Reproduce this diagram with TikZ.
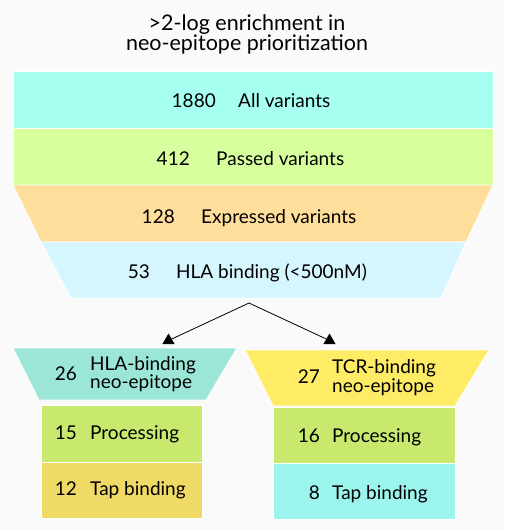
\documentclass[tikz,border=0pt]{standalone}
\usepackage{fontspec}
\setmainfont{Lato}
\usetikzlibrary{shapes.geometric}
\definecolor{paper}{HTML}{FAFAFA}
\definecolor{allcol}{HTML}{A6FFF0}
\definecolor{passcol}{HTML}{D8FF9E}
\definecolor{exprcol}{HTML}{FFDE9C}
\definecolor{hlacol}{HTML}{D6F6FF}
\definecolor{hlaepicol}{HTML}{9BE6D7}
\definecolor{proccol}{HTML}{C9E86E}
\definecolor{taplcol}{HTML}{F0DA66}
\definecolor{tcrepicol}{HTML}{FFEC66}
\definecolor{taprcol}{HTML}{9CF5EC}
\begin{document}
\begin{tikzpicture}[x=1pt, y=-1pt,
    font=\fontsize{19}{14.5}\selectfont,
    stage/.style={draw=white, line width=0.8pt},
    count/.style={anchor=base east, inner sep=0pt},
    what/.style={anchor=base west, inner sep=0pt},
    tip/.style={regular polygon, regular polygon sides=3, fill=black,
        minimum size=14pt, inner sep=0pt}]
    \fill [paper] (0,0) rectangle (504,530);
    \useasboundingbox (0,0) rectangle (504,530);
    % title
    \node [align=center, anchor=base, inner sep=0pt,
        font=\fontsize{21.5}{20}\selectfont] (title) at (247,50)
        {>2-log enrichment in\\neo-epitope prioritization};
    % main funnel
    \filldraw [stage, fill=allcol] (13,71) rectangle (493,128);
    \filldraw [stage, fill=passcol] (13,128) rectangle (493,185);
    \filldraw [stage, fill=exprcol] (13,185) -- (493,185) -- (466,242) -- (41,242) -- cycle;
    \filldraw [stage, fill=hlacol] (41,242) -- (466,242) -- (441,298) -- (71,298) -- cycle;
    \node [count] (alln) at (216,107) {1880};
    \node [what] (allt) at (238,107) {All variants};
    \node [count] (passn) at (190,165) {412};
    \node [what] (passt) at (216,165) {Passed variants};
    \node [count] (exprn) at (175,223) {128};
    \node [what] (exprt) at (201,223) {Expressed variants};
    \node [count] (hlan) at (150,278) {53};
    \node [what] (hlat) at (176,278) {HLA binding (<500nM)};
    % split
    \coordinate (split) at (249,303);
    \node [tip] (hlatip) at (168.5,340.5) {};
    \node [tip] (tcrtip) at (329.5,340.5) {};
    \draw [line width=0.8pt] (split) -- (hlatip.center);
    \draw [line width=0.8pt] (split) -- (tcrtip.center);
    % HLA branch
    \filldraw [stage, fill=hlaepicol] (13,348) -- (237,348) -- (206,400) -- (39,400) -- cycle;
    \filldraw [stage, fill=proccol] (41,405) rectangle (202,462);
    \filldraw [stage, fill=taplcol] (41,462) rectangle (202,518);
    \node [count] (hlaepin) at (77,380) {26};
    \node [what, align=left] (hlaepit) at (90,388.5) {HLA-binding\\neo-epitope};
    \node [count] (hlaprocn) at (77,439) {15};
    \node [what] (hlaproct) at (90,439) {Processing};
    \node [count] (hlatapn) at (77,495) {12};
    \node [what] (hlatapt) at (90,495) {Tap binding};
    % TCR branch
    \filldraw [stage, fill=tcrepicol] (245,350) -- (489,350) -- (455,406) -- (273,406) -- cycle;
    \filldraw [stage, fill=proccol] (273,407) rectangle (455,463);
    \filldraw [stage, fill=taprcol] (273,463) rectangle (455,519);
    \node [count] (tcrepin) at (320,383) {27};
    \node [what, align=left] (tcrepit) at (332,392) {TCR-binding\\neo-epitope};
    \node [count] (tcrprocn) at (320,442) {16};
    \node [what] (tcrproct) at (332,442) {Processing};
    \node [count] (tcrtapn) at (320,499) {8};
    \node [what] (tcrtapt) at (332,499) {Tap binding};
\end{tikzpicture}
\end{document}
